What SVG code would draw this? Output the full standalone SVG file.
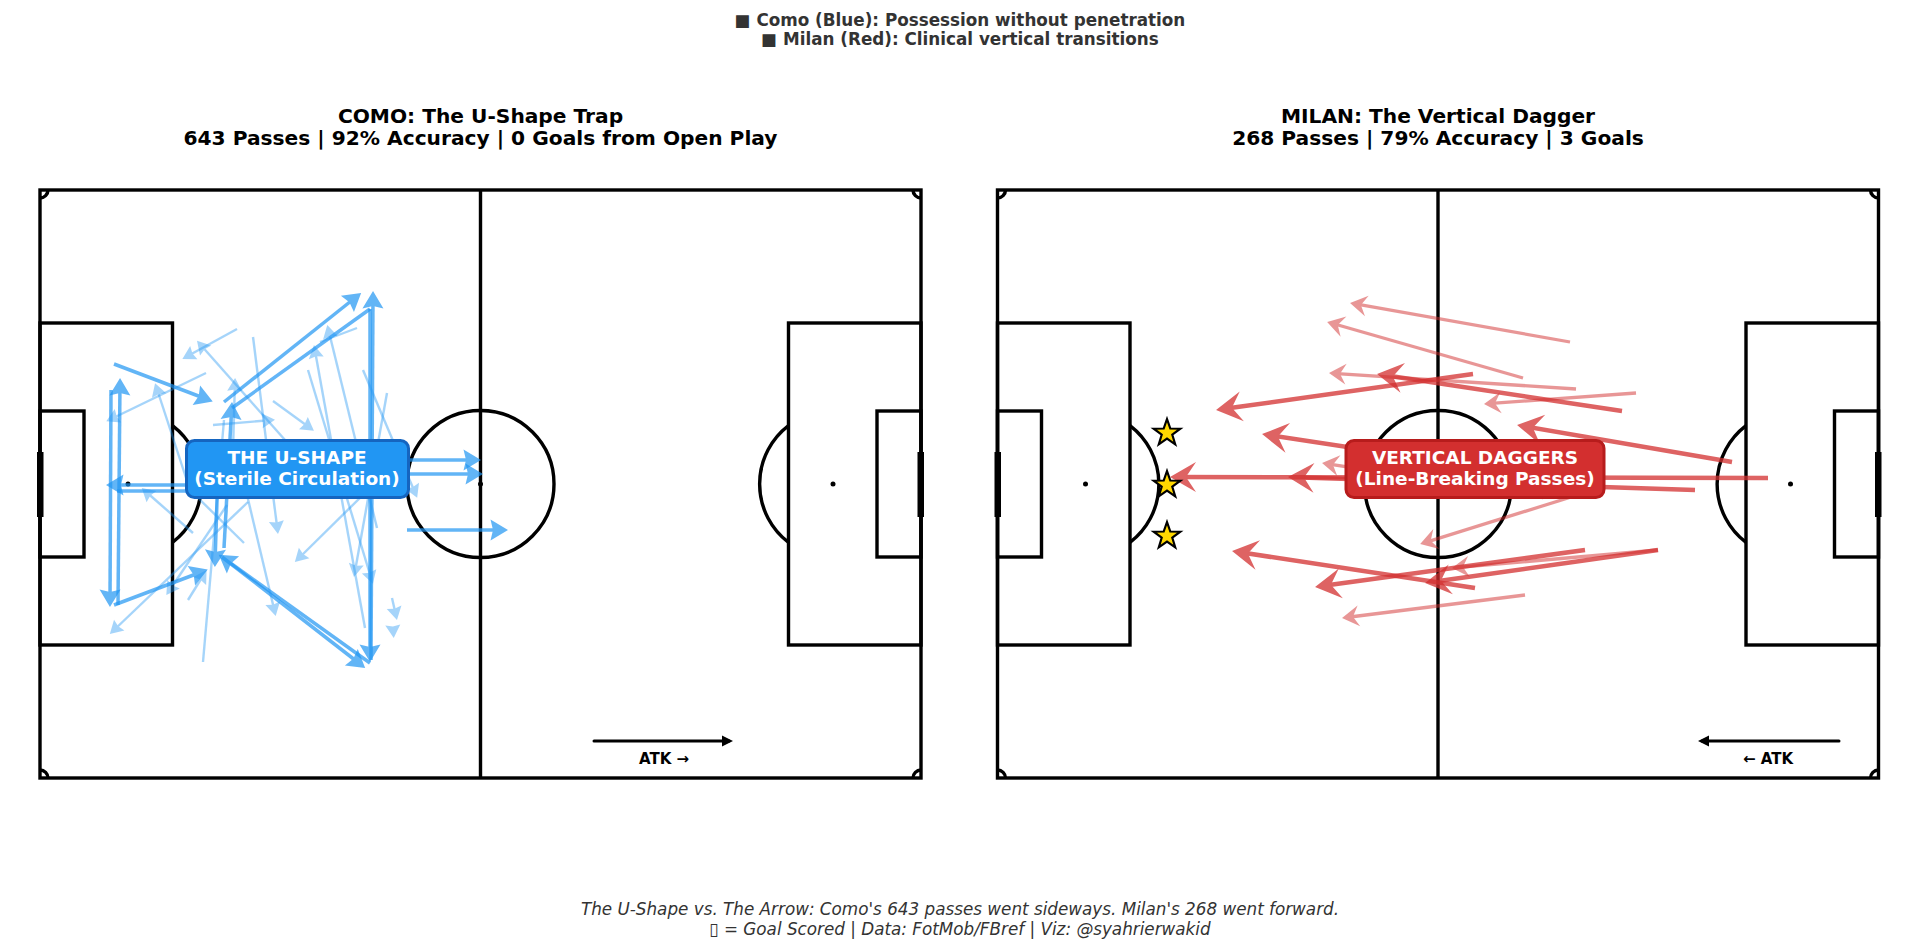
<svg xmlns="http://www.w3.org/2000/svg" xmlns:xlink="http://www.w3.org/1999/xlink" width="1920" height="950" viewBox="0 0 1920 950">
<style>
text{font-family:"DejaVu Sans",sans-serif;text-anchor:middle}
.sup{font-size:16.800px;font-weight:700;fill:#333}
.ttl{font-size:20.200px;font-weight:700;fill:#000}
.foot{font-size:16.800px;font-style:italic;fill:#333}
.lab{font-size:18.500px;font-weight:700;fill:#fff}
.atk{font-size:15px;font-weight:700;fill:#000}
.pl{fill:none;stroke:#000;stroke-width:3.400}
.bs{stroke:#2196F3;stroke-width:3.500;opacity:.7;fill:none}
.bf{stroke:#2196F3;stroke-width:2.400;opacity:.4;fill:none}
.rs{stroke:#D32F2F;stroke-width:4.500;opacity:.75;fill:none}
.rf{stroke:#D32F2F;stroke-width:3.300;opacity:.5;fill:none}
.bh1{marker-end:url(#hbs)}.bh2{marker-end:url(#hbf)}.rh1{marker-end:url(#hrs)}.rh2{marker-end:url(#hrf)}
.star{fill:#FFD700;stroke:#000;stroke-width:2.200;stroke-linejoin:miter}
</style>
<defs>
<marker id="hbs" markerUnits="userSpaceOnUse" markerWidth="30" markerHeight="30" refX="15" refY="15" orient="auto" overflow="visible"><path d="M19 15L1.500 4.500L4 15L1.500 25.500Z" fill="#2196F3"/></marker>
<marker id="hbf" markerUnits="userSpaceOnUse" markerWidth="30" markerHeight="30" refX="15" refY="15" orient="auto" overflow="visible"><path d="M18 15L5 7.500L6.500 15L5 22.500Z" fill="#2196F3"/></marker>
<marker id="hrs" markerUnits="userSpaceOnUse" markerWidth="40" markerHeight="40" refX="20" refY="20" orient="auto" overflow="visible"><path d="M25 20L-1 5L9 20L-1 35Z" fill="#D32F2F"/></marker>
<marker id="hrf" markerUnits="userSpaceOnUse" markerWidth="30" markerHeight="30" refX="15" refY="15" orient="auto" overflow="visible"><path d="M19 15L2 4.500L8 15L2 25.500Z" fill="#D32F2F"/></marker>
<marker id="hatk" markerUnits="userSpaceOnUse" markerWidth="20" markerHeight="20" refX="10" refY="10" orient="auto" overflow="visible"><path d="M14 10L3 4.500L3 15.500Z" fill="#000"/></marker>
<g id="pitch">
<rect class="pl" x="40" y="190" width="881" height="588"/>
<line class="pl" x1="480.500" y1="190" x2="480.500" y2="778"/>
<circle class="pl" cx="480.500" cy="484" r="73.500"/>
<circle cx="480.500" cy="484" r="2.500"/>
<rect class="pl" x="40" y="323" width="132.500" height="322"/>
<rect class="pl" x="40" y="411" width="44" height="146"/>
<rect class="pl" x="788.500" y="323" width="132.500" height="322"/>
<rect class="pl" x="877" y="411" width="44" height="146"/>
<circle cx="128" cy="484" r="2.500"/>
<circle cx="833" cy="484" r="2.500"/>
<path class="pl" d="M172.500 425.600A73.500 73.500 0 0 1 172.500 542.400"/>
<path class="pl" d="M788.500 425.600A73.500 73.500 0 0 0 788.500 542.400"/>
<path class="pl" d="M48 190A8 8 0 0 1 40 198M913 190A8 8 0 0 0 921 198M48 778A8 8 0 0 0 40 770M913 778A8 8 0 0 1 921 770"/>
<rect x="37" y="452" width="6.500" height="65"/>
<rect x="917.500" y="452" width="6.500" height="65"/>
</g>
</defs>
<rect width="1920" height="950" fill="#fff"/>
<g id="header">
<text class="sup" x="960" y="26">■ Como (Blue): Possession without penetration</text>
<text class="sup" x="960" y="45">■ Milan (Red): Clinical vertical transitions</text>
<text class="ttl" x="480.500" y="123">COMO: The U-Shape Trap</text>
<text class="ttl" x="480.500" y="145">643 Passes | 92% Accuracy | 0 Goals from Open Play</text>
<text class="ttl" x="1438" y="123">MILAN: The Vertical Dagger</text>
<text class="ttl" x="1438" y="145">268 Passes | 79% Accuracy | 3 Goals</text>
</g>
<g id="pitch-como"><use href="#pitch" xlink:href="#pitch"/></g>
<g id="pitch-milan"><use href="#pitch" xlink:href="#pitch" transform="translate(957.500 0)"/></g>
<g id="connectors-como">
<line class="bf bh2" x1="237" y1="329" x2="185" y2="357.500"/>
<line class="bf bh2" x1="206" y1="373" x2="109" y2="420"/>
<line class="bf bh2" x1="190" y1="490" x2="156" y2="386"/>
<line class="bf bh2" x1="285" y1="440" x2="199" y2="343"/>
<line class="bf bh2" x1="233" y1="450" x2="235" y2="381"/>
<line class="bf bh2" x1="193" y1="533" x2="144" y2="490"/>
<line class="bf" x1="244" y1="543" x2="190" y2="490"/>
<line class="bf bh2" x1="248" y1="502" x2="112" y2="632"/>
<line class="bf" x1="203" y1="662" x2="224" y2="420"/>
<line class="bf bh2" x1="213" y1="425" x2="272" y2="420"/>
<line class="bf bh2" x1="234" y1="440" x2="275" y2="613"/>
<line class="bf bh2" x1="253" y1="337" x2="277.600" y2="531"/>
<line class="bf bh2" x1="273" y1="401" x2="311.500" y2="429"/>
<line class="bf bh2" x1="365" y1="628" x2="314.500" y2="348"/>
<line class="bf" x1="357" y1="328" x2="320" y2="342"/>
<line class="bf bh2" x1="377" y1="528" x2="328" y2="328"/>
<line class="bf bh2" x1="308" y1="370" x2="372" y2="581"/>
<line class="bf bh2" x1="363" y1="370" x2="416" y2="495"/>
<line class="bf bh2" x1="387" y1="393" x2="354.500" y2="574"/>
<line class="bf bh2" x1="370" y1="488" x2="297" y2="560"/>
<line class="bf bh2" x1="392" y1="598" x2="396.300" y2="617"/>
<line class="bf bh2" x1="393" y1="628" x2="393.500" y2="635"/>
<line class="bf bh2" x1="188" y1="600" x2="205" y2="572.500"/>
<line class="bf bh2" x1="227" y1="505" x2="168" y2="592.500"/>
<line class="bs bh1" x1="114" y1="364" x2="209" y2="400"/>
<line class="bs bh1" x1="118" y1="605" x2="120" y2="382"/>
<line class="bs bh1" x1="111" y1="390" x2="110" y2="603"/>
<line class="bs bh1" x1="190" y1="485" x2="110" y2="485"/>
<line class="bs" x1="117" y1="491" x2="250" y2="491"/>
<line class="bs bh1" x1="114" y1="605" x2="204" y2="571"/>
<line class="bs bh1" x1="218" y1="470" x2="215" y2="563"/>
<line class="bs bh1" x1="224" y1="548" x2="231.800" y2="406"/>
<line class="bs bh1" x1="224" y1="402" x2="358" y2="295.500"/>
<line class="bs" x1="370" y1="309" x2="232" y2="408"/>
<line class="bs bh1" x1="371" y1="660" x2="373" y2="295"/>
<line class="bs bh1" x1="370" y1="309" x2="370" y2="658"/>
<line class="bs bh1" x1="370" y1="663" x2="222" y2="557"/>
<line class="bs bh1" x1="222" y1="557" x2="362" y2="665.500"/>
<line class="bs bh1" x1="407" y1="530" x2="504" y2="530"/>
<line class="bs bh1" x1="300" y1="460" x2="477" y2="460"/>
<line class="bs bh1" x1="300" y1="474" x2="479" y2="474"/>
</g>
<g id="connectors-milan">
<line class="rf rh2" x1="1570" y1="342" x2="1354" y2="303.700"/>
<line class="rf rh2" x1="1523" y1="378" x2="1331" y2="323"/>
<line class="rf rh2" x1="1576" y1="389" x2="1333" y2="373.300"/>
<line class="rf rh2" x1="1636" y1="393" x2="1488" y2="403.700"/>
<line class="rf rh2" x1="1400" y1="475" x2="1326" y2="463.600"/>
<line class="rf rh2" x1="1600" y1="488" x2="1424" y2="542.800"/>
<line class="rf rh2" x1="1658" y1="550" x2="1456" y2="567.700"/>
<line class="rf rh2" x1="1525" y1="595" x2="1346" y2="617.500"/>
<line class="rf rh2" x1="1590" y1="470" x2="1489" y2="489"/>
<line class="rf rh2" x1="1590" y1="485" x2="1529" y2="490"/>
<line class="rs rh1" x1="1473" y1="374" x2="1221" y2="409.300"/>
<line class="rs rh1" x1="1622" y1="411" x2="1382" y2="374.800"/>
<line class="rs rh1" x1="1400" y1="455" x2="1267" y2="434.800"/>
<line class="rs rh1" x1="1732" y1="462" x2="1522" y2="425.900"/>
<line class="rs rh1" x1="1768" y1="478" x2="1175" y2="477"/>
<line class="rs rh1" x1="1695" y1="490" x2="1293" y2="477.200"/>
<line class="rs rh1" x1="1475" y1="588" x2="1237" y2="551.800"/>
<line class="rs rh1" x1="1585" y1="550" x2="1320" y2="586.300"/>
<line class="rs rh1" x1="1658" y1="550" x2="1430" y2="582.300"/>
</g>
<g id="node-ushape">
<rect x="186.500" y="440.500" width="222" height="57" rx="8" fill="#2196F3" stroke="#1565C0" stroke-width="3"/>
<text class="lab" x="297" y="464">THE U-SHAPE</text>
<text class="lab" x="297" y="485">(Sterile Circulation)</text>
</g>
<g id="node-daggers">
<rect x="1346" y="440.500" width="258" height="57" rx="8" fill="#D32F2F" stroke="#B71C1C" stroke-width="3"/>
<text class="lab" x="1475" y="464">VERTICAL DAGGERS</text>
<text class="lab" x="1475" y="485">(Line-Breaking Passes)</text>
</g>
<g id="goal-star-1"><path class="star" transform="translate(1167 433)" d="M0-14L3.300-4.500L13.300-4.300L5.300 1.700L8.200 11.300L0 5.600L-8.200 11.300L-5.300 1.700L-13.300-4.300L-3.300-4.500Z"/></g>
<g id="goal-star-2"><path class="star" transform="translate(1167 485)" d="M0-14L3.300-4.500L13.300-4.300L5.300 1.700L8.200 11.300L0 5.600L-8.200 11.300L-5.300 1.700L-13.300-4.300L-3.300-4.500Z"/></g>
<g id="goal-star-3"><path class="star" transform="translate(1167 536)" d="M0-14L3.300-4.500L13.300-4.300L5.300 1.700L8.200 11.300L0 5.600L-8.200 11.300L-5.300 1.700L-13.300-4.300L-3.300-4.500Z"/></g>
<g id="attack-como">
<line x1="594" y1="741" x2="729" y2="741" stroke="#000" stroke-width="3" stroke-linecap="round" marker-end="url(#hatk)"/>
<text class="atk" x="664" y="764">ATK →</text>
</g>
<g id="attack-milan">
<line x1="1839" y1="741" x2="1702" y2="741" stroke="#000" stroke-width="3" stroke-linecap="round" marker-end="url(#hatk)"/>
<text class="atk" x="1768" y="764">← ATK</text>
</g>
<g id="footer">
<text class="foot" x="960" y="915">The U-Shape vs. The Arrow: Como's 643 passes went sideways. Milan's 268 went forward.</text>
<text class="foot" x="960" y="935">▯ = Goal Scored | Data: FotMob/FBref | Viz: @syahrierwakid</text>
</g>
</svg>
